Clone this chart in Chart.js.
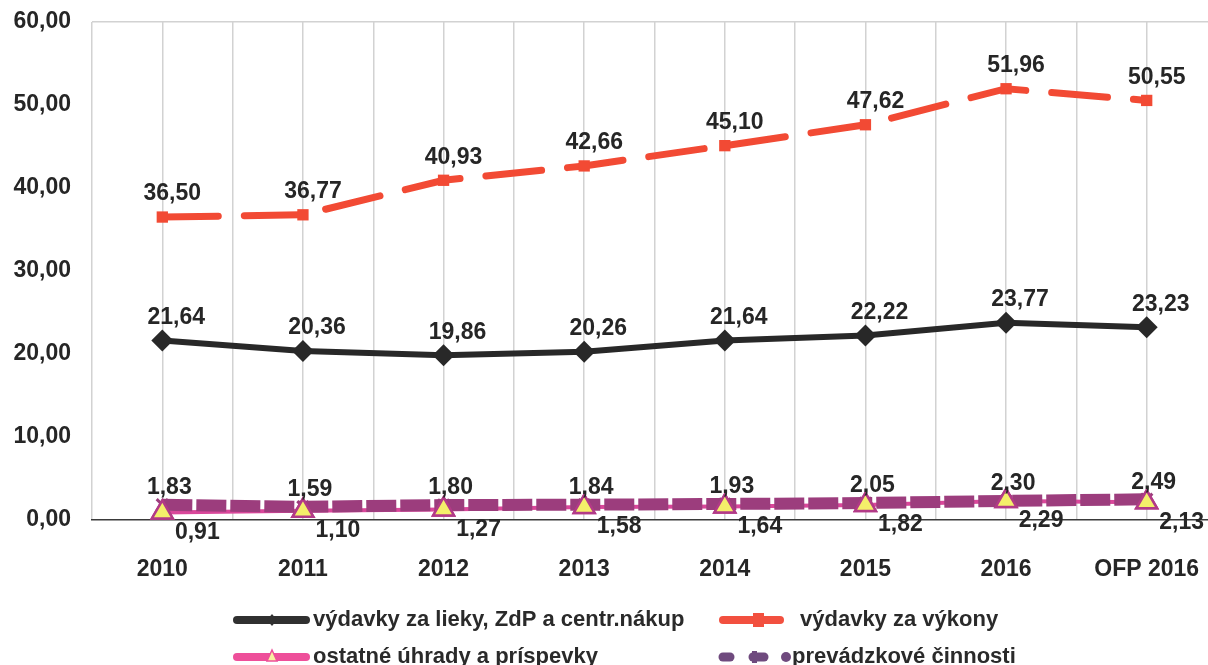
<!DOCTYPE html>
<html>
<head>
<meta charset="utf-8">
<script src="https://cdn.jsdelivr.net/npm/chart.js@4/dist/chart.umd.min.js"></script>
<style>
  html, body { margin: 0; padding: 0; background: #fff; overflow: hidden; }
  #wrap { width: 1208px; height: 665px; overflow: hidden; }
</style>
</head>
<body>
<div id="wrap"><canvas id="chart" width="1218" height="665"></canvas></div>
<script>
const categories = ['2010', '2011', '2012', '2013', '2014', '2015', '2016', 'OFP 2016'];
const seriesNames = ['výdavky za lieky, ZdP a centr.nákup', 'výdavky za výkony', 'ostatné úhrady a príspevky', 'prevádzkové činnosti'];
const liekyValues = [21.64, 20.36, 19.86, 20.26, 21.64, 22.22, 23.77, 23.23];
const vykonyValues = [36.50, 36.77, 40.93, 42.66, 45.10, 47.62, 51.96, 50.55];
const ostatneValues = [0.91, 1.10, 1.27, 1.58, 1.64, 1.82, 2.29, 2.13];
const prevadzkaValues = [1.83, 1.59, 1.80, 1.84, 1.93, 2.05, 2.30, 2.49];
const yMin = 0, yMax = 60, yStep = 10;

const FONT = '"Liberation Sans", Arial, sans-serif';
const toPoints = vals => vals.map((v, i) => ({ x: i, y: v }));
const fmt = v => v.toFixed(2).replace('.', ',');

// label offsets per series (dx, dy)
const labelOffsets = [[14, -23], [10, -23], [35, 20], [7, -17]];

const valueLabels = {
  id: 'valueLabels',
  afterDatasetsDraw(chart) {
    const ctx = chart.ctx;
    // triangles sit on top of the purple line
    chart.getDatasetMeta(2).data.forEach(p => p.draw(ctx));
    ctx.save();
    ctx.font = 'bold 23px ' + FONT;
    ctx.fillStyle = '#262626';
    ctx.textAlign = 'center';
    ctx.textBaseline = 'middle';
    chart.data.datasets.forEach((ds, di) => {
      const off = labelOffsets[di];
      chart.getDatasetMeta(di).data.forEach((p, i) => {
        ctx.fillText(fmt(ds.data[i].y), p.x + off[0], p.y + off[1]);
      });
    });
    ctx.restore();
  }
};

function bar(ctx, x1, x2, y, color, w) {
  ctx.strokeStyle = color; ctx.lineWidth = w; ctx.lineCap = 'round';
  ctx.beginPath(); ctx.moveTo(x1, y); ctx.lineTo(x2, y); ctx.stroke();
}

const customLegend = {
  id: 'customLegend',
  afterDraw(chart) {
    const ctx = chart.ctx;
    ctx.save();
    // 1: black
    bar(ctx, 237, 306, 620, '#303030', 8);
    ctx.fillStyle = '#303030';
    ctx.beginPath(); ctx.moveTo(272, 614); ctx.lineTo(277, 620); ctx.lineTo(272, 626); ctx.lineTo(267, 620); ctx.fill();
    // 2: red
    bar(ctx, 723, 780, 620, '#f2503f', 8);
    ctx.fillStyle = '#f2503f'; ctx.fillRect(753, 613, 11, 14);
    // 3: pink
    bar(ctx, 237, 306, 657, '#ee4f9a', 8);
    ctx.fillStyle = '#f8f0a0'; ctx.strokeStyle = '#ee4f9a'; ctx.lineWidth = 1.5;
    ctx.beginPath(); ctx.moveTo(272, 650); ctx.lineTo(277, 661); ctx.lineTo(267, 661); ctx.closePath(); ctx.fill(); ctx.stroke();
    // 4: purple dashes
    bar(ctx, 723, 730, 657, '#6f4a7e', 9);
    bar(ctx, 753, 764, 657, '#6f4a7e', 9);
    ctx.fillStyle = '#6f4a7e'; ctx.fillRect(752, 651, 5, 12);
    ctx.beginPath(); ctx.arc(786, 657, 5, 0, Math.PI * 2); ctx.fill();

    ctx.font = 'bold 22px ' + FONT;
    ctx.fillStyle = '#2a2a2a';
    ctx.textBaseline = 'middle';
    ctx.fillText(seriesNames[0], 313, 620);
    ctx.fillText(seriesNames[1], 800, 620);
    ctx.fillText(seriesNames[2], 313, 657);
    ctx.fillText(seriesNames[3], 792, 657);
    ctx.restore();
  }
};

const noPad = s => { s.paddingLeft = 0; s.paddingRight = 0; s.paddingTop = 0; s.paddingBottom = 0; };

new Chart(document.getElementById('chart'), {
  type: 'line',
  data: {
    datasets: [
      {
        label: seriesNames[0], data: toPoints(liekyValues),
        borderColor: '#282828', backgroundColor: '#282828', borderWidth: 6,
        pointStyle: 'rectRot', pointRadius: 11, pointBorderWidth: 0, order: 0
      },
      {
        label: seriesNames[1], data: toPoints(vykonyValues),
        borderColor: '#f24a34', backgroundColor: '#f24a34', borderWidth: 7,
        borderDash: [56, 26], borderCapStyle: 'round',
        pointStyle: 'rect', pointRadius: 8, pointBorderWidth: 0, order: 0
      },
      {
        label: seriesNames[2], data: toPoints(ostatneValues),
        borderColor: '#d9479a', backgroundColor: '#f4ef6a', borderWidth: 4,
        pointStyle: 'triangle', pointRadius: 12, pointBorderColor: '#b23a87', pointBorderWidth: 2.5, order: 3
      },
      {
        label: seriesNames[3], data: toPoints(prevadzkaValues),
        borderColor: '#9c3d7d', backgroundColor: '#9c3d7d', borderWidth: 12,
        borderDash: [30, 4], borderCapStyle: 'butt',
        pointStyle: 'crossRot', pointRadius: 8, pointBorderColor: '#9c3d7d', pointBorderWidth: 3, order: 2
      }
    ]
  },
  options: {
    responsive: false,
    animation: false,
    clip: false,
    layout: { autoPadding: false, padding: { left: 0, right: 1, top: 22, bottom: 0 } },
    elements: { line: { tension: 0 } },
    plugins: { legend: { display: false }, tooltip: { enabled: false } },
    scales: {
      x: {
        type: 'linear', min: -0.5, max: categories.length - 0.5,
        afterFit: s => { s.height = 145; noPad(s); },
        ticks: {
          stepSize: 0.5, autoSkip: false, maxRotation: 0, padding: 36,
          color: '#262626', font: { family: FONT, size: 23, weight: 'bold' },
          callback: v => Number.isInteger(v) ? categories[v] : ''
        },
        grid: { color: '#d2d2d2', lineWidth: 1.5, drawTicks: false },
        border: { display: true, color: '#3a3a3a', width: 1.5 }
      },
      y: {
        min: yMin, max: yMax,
        afterFit: s => { s.width = 92; noPad(s); },
        ticks: {
          stepSize: yStep, padding: 21,
          color: '#262626', font: { family: FONT, size: 23, weight: 'bold' },
          callback: v => fmt(v)
        },
        grid: {
          drawTicks: false, lineWidth: 1.5,
          color: c => c.tick.value === yMax ? '#d2d2d2' : 'rgba(0,0,0,0)'
        },
        border: { display: false }
      }
    }
  },
  plugins: [valueLabels, customLegend]
});
</script>
</body>
</html>
